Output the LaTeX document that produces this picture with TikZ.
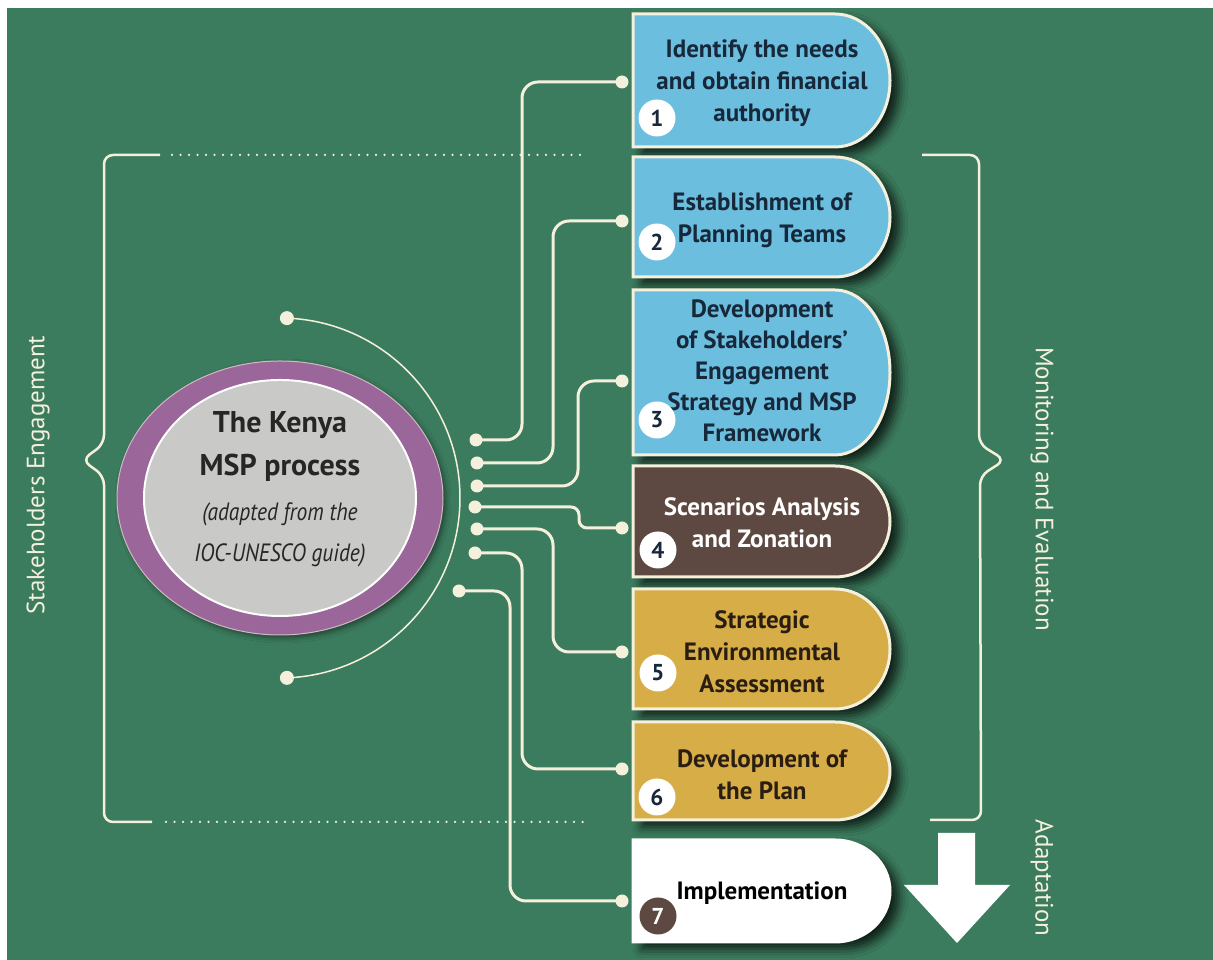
\documentclass[tikz,border=0pt]{standalone}
\usepackage{fontspec}
\setmainfont{PT Sans}
\newfontfamily\narrowfont{PT Sans}[FakeStretch=0.86]
\usetikzlibrary{shadows.blur,calc}

\definecolor{bg}{HTML}{3C7C5E}
\definecolor{cream}{HTML}{F4F0DC}
\definecolor{sky}{HTML}{6CBEDF}
\definecolor{mud}{HTML}{5D4942}
\definecolor{ochre}{HTML}{D7AD48}
\definecolor{plum}{HTML}{9B679B}
\definecolor{pearl}{HTML}{C9C9C7}
\definecolor{ink}{HTML}{17283A}
\definecolor{inkb}{HTML}{2A1E12}

% D-shaped step box: #1 bottom, #2 top, #3 fill colour, #4 border colour
\newcommand\stepshape[4]{%
  \path[draw=#4, line width=3, fill=#3,
        blur shadow={shadow xshift=9pt, shadow yshift=-7pt, shadow blur radius=9pt, shadow opacity=75}]
    (633,#1) -- (835,#1)
    arc[start angle=-90, end angle=90, x radius=55, y radius={(#2-#1)/2}]
    -- (633,#2) -- cycle;}

\tikzset{
  boxtxt/.style={align=center, inner sep=0pt, font=\bfseries\fontsize{25}{32}\selectfont},
  num/.style={circle, fill=white, minimum size=37pt, inner sep=0pt, text=ink,
              font=\bfseries\fontsize{23}{23}\selectfont},
  dot/.style={circle, fill=cream, minimum size=13pt, inner sep=0pt},
  wire/.style={draw=cream, line width=3, rounded corners=16pt},
  sidelabel/.style={text=cream, inner sep=0pt, font=\fontsize{25}{25}\selectfont},
  bracket/.style={draw=cream, line width=2.5, rounded corners=9pt},
  dotline/.style={draw=cream, line width=2.5, line cap=round, dash pattern=on 0pt off 8.5pt}
}

\begin{document}
\begin{tikzpicture}[x=1pt, y=1pt]
  % page and green field
  \fill[white] (0,0) rectangle (1213,960);
  \fill[bg] (7,0) rectangle (1213,952);
  \useasboundingbox (0,0) rectangle (1213,960);

  % step boxes
  \stepshape{813}{946}{sky}{cream}
  \stepshape{683}{803}{sky}{cream}
  \stepshape{505}{670}{sky}{cream}
  \stepshape{383}{494}{mud}{cream}
  \stepshape{251}{371}{ochre}{cream}
  \stepshape{140}{238}{ochre}{cream}
  \stepshape{18}{120}{white}{white}

  % step texts
  \node[boxtxt, text=ink] (t1) at (762,877) {Identify the needs\\and obtain financial\\authority};
  \node[boxtxt, text=ink] (t2) at (762,740) {Establishment of\\Planning Teams};
  \node[boxtxt, text=ink, font=\bfseries\fontsize{25}{31}\selectfont] (t3) at (762,589) {Development\\of Stakeholders’\\Engagement\\Strategy and MSP\\Framework};
  \node[boxtxt, text=white] (t4) at (762,437) {Scenarios Analysis\\and Zonation};
  \node[boxtxt, text=inkb] (t5) at (762,308) {Strategic\\Environmental\\Assessment};
  \node[boxtxt, text=inkb] (t6) at (762,185) {Development of\\the Plan};
  \node[boxtxt, text=black] (t7) at (762,67) {Implementation};

  % step numbers
  \node[num] (n1) at (657,842) {1};
  \node[num] (n2) at (657,718) {2};
  \node[num] (n3) at (657,540) {3};
  \node[num] (n4) at (658,410) {4};
  \node[num] (n5) at (658,287) {5};
  \node[num] (n6) at (657,163) {6};
  \node[num, fill=mud, text=white] (n7) at (658,44) {7};

  % central process disc
  \path[fill=plum, draw=cream!60!plum, line width=1,
        blur shadow={shadow xshift=3pt, shadow yshift=-3pt, shadow blur radius=5pt, shadow opacity=45}]
    (280,462) ellipse [x radius=163, y radius=137];
  \path[fill=pearl, draw=white, line width=2] (280,462) ellipse [x radius=136, y radius=118];
  \node[align=center, inner sep=0pt, text=black!85, font=\bfseries\fontsize{30}{43}\selectfont]
    (hubtitle) at (280,513) {The Kenya\\MSP process};
  \node[align=center, inner sep=0pt, text=black!85, font=\narrowfont\itshape\fontsize{25}{41}\selectfont]
    (hubnote) at (280,425) {(adapted from the\\IOC-UNESCO guide)};

  % thin arc around the disc
  \node[dot, minimum size=14pt] (arcTop) at ($(280,462)+(87.8:180)$) {};
  \node[dot, minimum size=14pt] (arcBot) at ($(280,462)+(-87.8:180)$) {};
  \draw[cream, line width=1.5] (arcTop.center) arc[start angle=87.8, end angle=-87.8, radius=180];

  % connector end dots at the disc
  \node[dot] (d1) at (476,520) {};
  \node[dot] (d2) at (477,497) {};
  \node[dot] (d3) at (477,474) {};
  \node[dot] (d4) at (475,453) {};
  \node[dot] (d5) at (477,431) {};
  \node[dot] (d6) at (475,407) {};
  \node[dot] (d7) at (459,369) {};
  % connector end dots at the steps
  \node[dot] (e1) at (622,878) {};
  \node[dot] (e2) at (622,739) {};
  \node[dot] (e3) at (622,579) {};
  \node[dot] (e4) at (622,432) {};
  \node[dot] (e5) at (622,308) {};
  \node[dot] (e6) at (622,191) {};
  \node[dot] (e7) at (622,59) {};

  % vertical runs of the connectors
  \coordinate (v1) at (522,0);
  \coordinate (v2) at (553,0);
  \coordinate (v3) at (578,0);
  \coordinate (v4) at (579,0);
  \coordinate (v7) at (510,0);

  \draw[wire] (d1.center) -| (v1 |- e1) -- (e1.center);
  \draw[wire] (d2.center) -| (v2 |- e2) -- (e2.center);
  \draw[wire] (d3.center) -| (v3 |- e3) -- (e3.center);
  \draw[wire, rounded corners=8pt] (d4.center) -| (v4 |- e4) -- (e4.center);
  \draw[wire] (d5.center) -| (v2 |- e5) -- (e5.center);
  \draw[wire] (d6.center) -| (v1 |- e6) -- (e6.center);
  \draw[wire] (d7.center) -| (v7 |- e7) -- (e7.center);

  % stakeholder engagement bracket
  \coordinate (lt) at (160,805);
  \coordinate (lb) at (152,138);
  \draw[bracket] (lt) -- (104,805) -- (104,516) -- (82,500) -- (104,484) -- (104,138) -- (lb);
  \draw[dotline] (172,805) -- (588,805);
  \draw[dotline] (166,138) -- (588,138);
  \node[sidelabel, rotate=90] (stake) at (38,485) {Stakeholders Engagement};

  % monitoring and evaluation bracket
  \coordinate (rt) at (922,805);
  \coordinate (rb) at (930,140);
  \draw[bracket] (rt) -- (979,805) -- (979,516) -- (1005,500) -- (980,484) -- (981,140) -- (rb);
  \node[sidelabel, rotate=-90] (monit) at (1042,471) {Monitoring and Evaluation};

  % adaptation arrow
  \path[fill=white] (938,127) -- (975,127) -- (975,75) -- (1010,75) -- (957,17)
    -- (904,75) -- (938,75) -- cycle;
  \node[sidelabel, rotate=-90] (adapt) at (1042,82) {Adaptation};
\end{tikzpicture}
\end{document}
